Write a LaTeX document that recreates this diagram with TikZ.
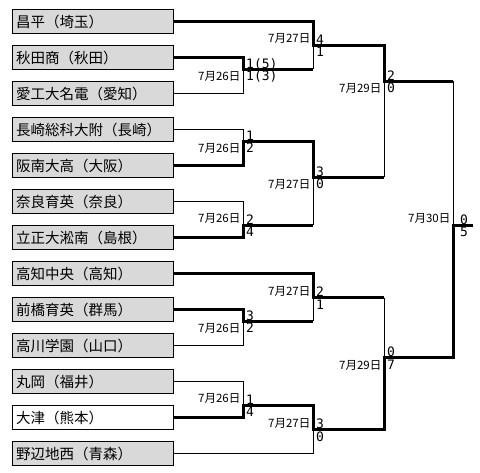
\documentclass[tikz,border=0pt]{standalone}
\usepackage{fontspec}
\newfontfamily\jp{Noto Sans CJK JP}
\newfontfamily\scf{DejaVu Sans Mono}
\definecolor{boxgray}{HTML}{D9D9D9}
\begin{document}
\begin{tikzpicture}[x=1pt,y=-1pt,
  team/.style={draw=black,line width=1.1pt,fill=boxgray,anchor=west,
    minimum height=24pt,text width=154pt,inner xsep=3.5pt,inner ysep=0pt,
    align=left,font=\jp\fontsize{14.5pt}{16pt}\selectfont},
  winbox/.style={team,fill=white},
  thin/.style={line width=1pt},
  thick/.style={line width=3pt,line join=miter},
  sc/.style={anchor=base west,inner sep=0pt,font=\scf\fontsize{13pt}{14pt}\selectfont},
  dt/.style={anchor=base east,inner sep=0pt,font=\jp\fontsize{11.5pt}{12pt}\selectfont}]
\useasboundingbox (0,0) rectangle (480,472);
\fill[white] (0,0) rectangle (480,472);

% teams
\node[team] (t1) at (12,21.5) {昌平（埼玉）};
\node[team] (t2) at (12,57.5) {秋田商（秋田）};
\node[team] (t3) at (12,93.5) {愛工大名電（愛知）};
\node[team] (t4) at (12,129.5) {長崎総科大附（長崎）};
\node[team] (t5) at (12,165.5) {阪南大高（大阪）};
\node[team] (t6) at (12,201.5) {奈良育英（奈良）};
\node[team] (t7) at (12,237.5) {立正大淞南（島根）};
\node[team] (t8) at (12,273.5) {高知中央（高知）};
\node[team] (t9) at (12,309.5) {前橋育英（群馬）};
\node[team] (t10) at (12,345.5) {高川学園（山口）};
\node[team] (t11) at (12,381.5) {丸岡（福井）};
\node[winbox] (t12) at (12,417.5) {大津（熊本）};
\node[team] (t13) at (12,453.5) {野辺地西（青森）};

% match junctions
\coordinate (R1a) at (243,69);
\coordinate (R1b) at (243,141);
\coordinate (R1c) at (243,225);
\coordinate (R1d) at (243,321);
\coordinate (R1e) at (243,405);
\coordinate (QF1) at (313,45);
\coordinate (QF2) at (313,177);
\coordinate (QF3) at (313,297.5);
\coordinate (QF4) at (313,429.5);
\coordinate (S1) at (384,81);
\coordinate (S2) at (384,357.5);
\coordinate (F) at (453,225);
\coordinate (Fend) at (473,225);

% thin connectors
\draw[thin] (t3.east) -| (R1a);
\draw[thin] (R1a -| QF1) -- (QF1);
\draw[thin] (t4.east) -| (R1b);
\draw[thin] (t6.east) -| (R1c);
\draw[thin] (R1c -| QF2) -- (QF2);
\draw[thin] (QF2 -| S1) -- (S1);
\draw[thin] (S1 -| F) -- (F);
\draw[thin] (t10.east) -| (R1d);
\draw[thin] (R1d -| QF3) -- (QF3);
\draw[thin] (QF3 -| S2) -- (S2);
\draw[thin] (t11.east) -| (R1e);
\draw[thin] (t13.east) -| (QF4);

% thick (winner) connectors
\draw[thick] (t1.east) -| (QF1) -| (S1) -- (S1 -| F);
\draw[thick] (t2.east) -| (R1a) -- (R1a -| QF1);
\draw[thick] (t5.east) -| (R1b) -| (QF2) -- (QF2 -| S1);
\draw[thick] (t7.east) -| (R1c) -- (R1c -| QF2);
\draw[thick] (t8.east) -| (QF3) -- (QF3 -| S2);
\draw[thick] (t9.east) -| (R1d) -- (R1d -| QF3);
\draw[thick] (t12.east) -| (R1e) -| (QF4) -| (S2) -| (F) -- (Fend);

% scores and dates
\node[sc] (R1aU) at ([shift={(3,-1)}]R1a) {1(5)};
\node[sc] (R1aL) at ([shift={(3,11.5)}]R1a) {1(3)};
\node[dt] (R1aD) at ([shift={(-2.5,11.5)}]R1a) {7月26日};

\node[sc] (R1bU) at ([shift={(3,-1)}]R1b) {1};
\node[sc] (R1bL) at ([shift={(3,11.5)}]R1b) {2};
\node[dt] (R1bD) at ([shift={(-2.5,11.5)}]R1b) {7月26日};

\node[sc] (R1cU) at ([shift={(3,-1)}]R1c) {2};
\node[sc] (R1cL) at ([shift={(3,11.5)}]R1c) {4};
\node[dt] (R1cD) at ([shift={(-2.5,-2.5)}]R1c) {7月26日};

\node[sc] (R1dU) at ([shift={(3,-1)}]R1d) {3};
\node[sc] (R1dL) at ([shift={(3,11.5)}]R1d) {2};
\node[dt] (R1dD) at ([shift={(-2.5,11.5)}]R1d) {7月26日};

\node[sc] (R1eU) at ([shift={(3,-1)}]R1e) {1};
\node[sc] (R1eL) at ([shift={(3,11.5)}]R1e) {4};
\node[dt] (R1eD) at ([shift={(-2.5,-2.5)}]R1e) {7月26日};

\node[sc] (QF1U) at ([shift={(3,-1)}]QF1) {4};
\node[sc] (QF1L) at ([shift={(3,11.5)}]QF1) {1};
\node[dt] (QF1D) at ([shift={(-2.5,-2.5)}]QF1) {7月27日};

\node[sc] (QF2U) at ([shift={(3,-1)}]QF2) {3};
\node[sc] (QF2L) at ([shift={(3,11.5)}]QF2) {0};
\node[dt] (QF2D) at ([shift={(-2.5,11.5)}]QF2) {7月27日};

\node[sc] (QF3U) at ([shift={(3,-1)}]QF3) {2};
\node[sc] (QF3L) at ([shift={(3,11.5)}]QF3) {1};
\node[dt] (QF3D) at ([shift={(-2.5,-2.5)}]QF3) {7月27日};

\node[sc] (QF4U) at ([shift={(3,-1)}]QF4) {3};
\node[sc] (QF4L) at ([shift={(3,11.5)}]QF4) {0};
\node[dt] (QF4D) at ([shift={(-2.5,-2.5)}]QF4) {7月27日};

\node[sc] (S1U) at ([shift={(3,-1)}]S1) {2};
\node[sc] (S1L) at ([shift={(3,11.5)}]S1) {0};
\node[dt] (S1D) at ([shift={(-2.5,11.5)}]S1) {7月29日};

\node[sc] (S2U) at ([shift={(3,-1)}]S2) {0};
\node[sc] (S2L) at ([shift={(3,11.5)}]S2) {7};
\node[dt] (S2D) at ([shift={(-2.5,11.5)}]S2) {7月29日};

\node[sc] (FU) at ([shift={(7,-1)}]F) {0};
\node[sc] (FL) at ([shift={(7,11.5)}]F) {5};
\node[dt] (FD) at ([shift={(-2.5,-2.5)}]F) {7月30日};
\end{tikzpicture}
\end{document}
